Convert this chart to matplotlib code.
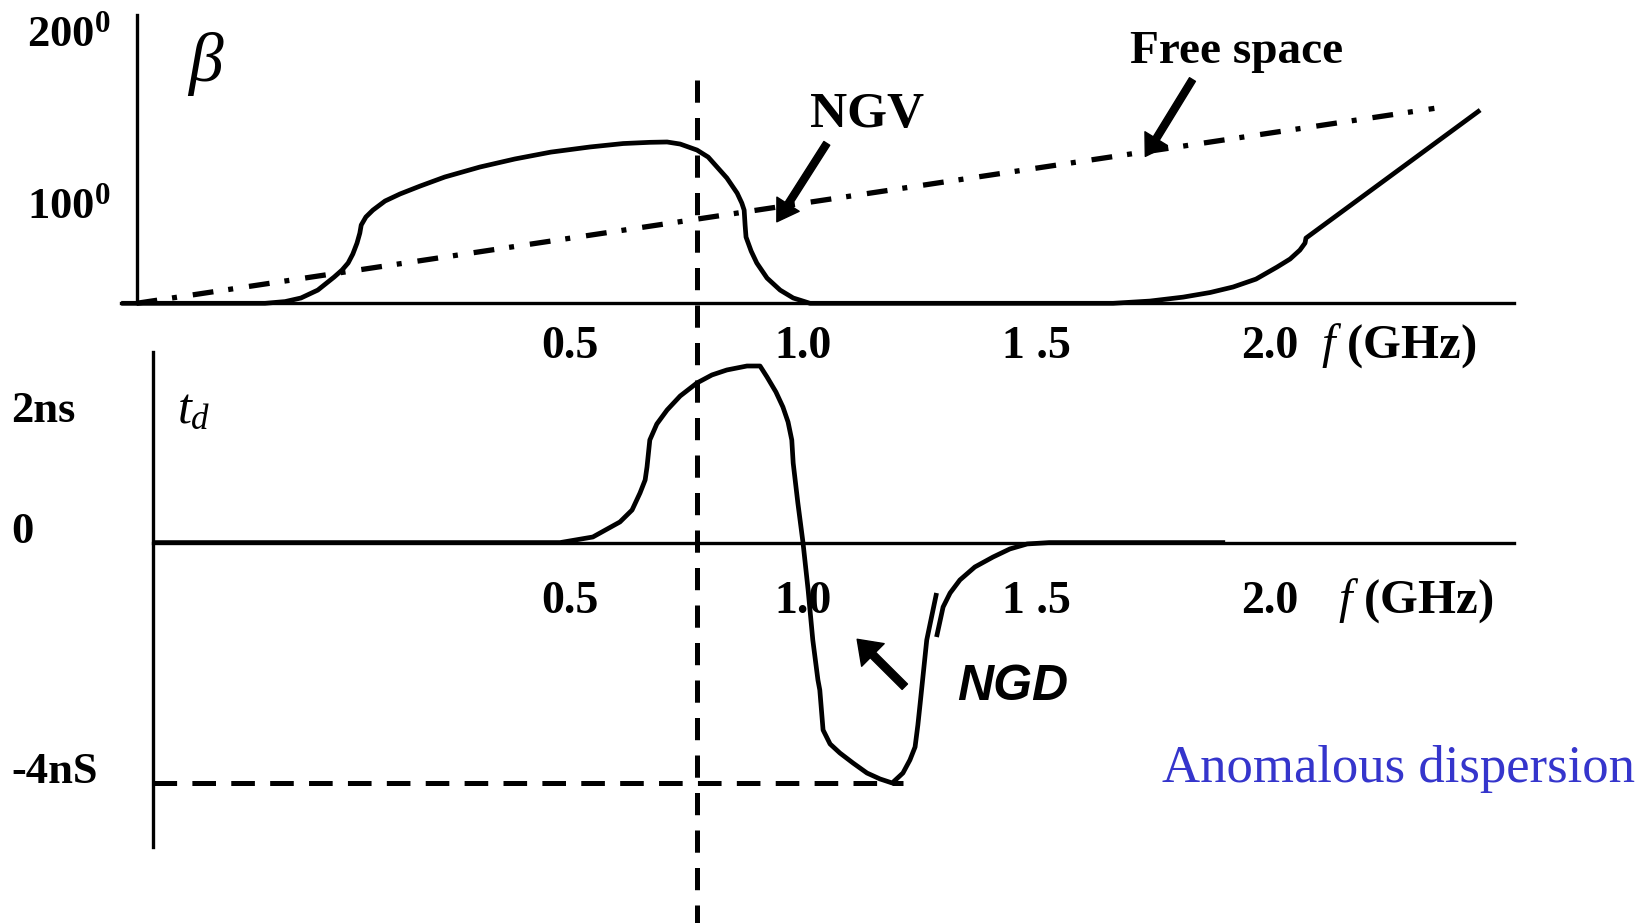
import numpy as np
import matplotlib
matplotlib.use('Agg')
import matplotlib.pyplot as plt

plt.rcParams.update({
    'font.family': 'Liberation Serif',
    'mathtext.fontset': 'custom',
    'mathtext.rm': 'Liberation Serif',
    'mathtext.it': 'Liberation Serif:italic',
    'mathtext.bf': 'Liberation Serif:bold',
    'lines.scale_dashes': False,
})

# phase constant beta (deg) against frequency (GHz)
f_beta = [-0.460, -0.152, -0.109, -0.075, -0.039, -0.004, 0.013, 0.026, 0.036, 0.045,
          0.051, 0.054, 0.064, 0.079, 0.105, 0.137, 0.180, 0.233, 0.308, 0.383,
          0.460, 0.544, 0.615, 0.672, 0.709, 0.737, 0.773, 0.797, 0.816, 0.837,
          0.859, 0.869, 0.874, 0.876, 0.878, 0.889, 0.901, 0.923, 0.951, 0.979,
          1.015, 1.664, 1.743, 1.814, 1.872, 1.921, 1.970, 2.015, 2.043, 2.064,
          2.075, 2.077, 2.450]
beta = [50.5, 50.5, 51.5, 53.6, 58.2, 65.8, 69.9, 74.0, 79.2, 85.6,
        91.4, 96.1, 100.8, 104.8, 110.1, 114.2, 118.8, 124.1, 129.9, 134.6,
        138.6, 141.6, 143.6, 144.3, 144.5, 143.3, 139.8, 135.7, 129.9, 123.5,
        114.7, 108.9, 104.8, 96.1, 89.1, 80.9, 74.0, 65.2, 58.2, 53.6,
        50.5, 50.5, 51.8, 54.1, 56.8, 60.0, 64.6, 71.6, 76.3, 81.5,
        85.6, 88.5, 163.1]

# free space line
f_free = [-0.427, 2.352]
beta_free = [50.5, 164.1]

# group delay t_d (ns); nan splits the two strokes
f_td = [-0.391, 0.480, 0.550, 0.608, 0.634, 0.651, 0.662, 0.666, 0.672, 0.687,
        0.709, 0.737, 0.773, 0.805, 0.837, 0.880, 0.908, 0.923, 0.942, 0.957,
        0.968, 0.976, 0.979, 0.989, 1.000, 1.011, 1.021, 1.032, 1.036, 1.043,
        1.058, 1.079, 1.107, 1.137, 1.165, 1.191, 1.214, 1.229, 1.240, 1.246,
        1.251, 1.265, 1.286, np.nan, 1.286, 1.300, 1.315, 1.336, 1.368, 1.407,
        1.443, 1.480, 1.527, 1.904]
td = [0, 0, 0.093, 0.343, 0.542, 0.825, 1.042, 1.258, 1.707, 1.973,
      2.206, 2.439, 2.656, 2.789, 2.872, 2.938, 2.938, 2.755, 2.506, 2.256,
      2.007, 1.707, 1.324, 0.659, 0.0, -0.789, -1.621, -2.286, -2.453, -3.118,
      -3.351, -3.501, -3.667, -3.834, -3.933, -4.0, -3.834, -3.617, -3.401, -3.035,
      -2.669, -1.621, -0.839, np.nan, -1.571, -1.072, -0.839, -0.622, -0.406, -0.240,
      -0.106, -0.023, 0, 0]

td_min = -4.0
f_min_line = [-0.391, 1.214]
f_marker = 0.772   # dashed frequency marker through both panels

f_ticks = [0.5, 1.0, 1.5, 2.0]
f_ticklabels = ['0.5', '1.0', '1 .5', '2.0']
beta_ticks = [100, 200]
beta_ticklabels = [r'100$^{\mathbf{0}}$', r'200$^{\mathbf{0}}$']
td_ticks = [2, 0, -4]
td_ticklabels = ['2ns', '0', '-4nS']

W, H = 1652, 923
fig = plt.figure(figsize=(W / 100, H / 100), dpi=100)
ax1 = fig.add_axes([121 / W, 1 - 303.3 / H, 1393 / W, 288.3 / H])
ax2 = fig.add_axes([153.3 / W, 1 - 846.7 / H, 1360.7 / W, 495 / H])

ax1.set_xlim(-0.4604, 2.5225)
ax1.set_ylim(50.5, 218.5)
ax2.set_xlim(-0.3912, 2.5225)
ax2.set_ylim(-5.06, 3.176)

for ax in (ax1, ax2):
    ax.patch.set_visible(False)
    for s in ('top', 'right'):
        ax.spines[s].set_visible(False)
    for s in ('left', 'bottom'):
        ax.spines[s].set_linewidth(2.4)
ax1.spines['left'].set_position(('data', -0.427))
ax2.spines['bottom'].set_position(('data', 0))

lab = dict(fontsize=33, fontweight='bold', va='baseline')
ax1.set_xticks(f_ticks, f_ticklabels, **lab)
ax1.set_yticks(beta_ticks, beta_ticklabels, fontsize=32, fontweight='bold', va='baseline')
ax1.tick_params(axis='x', length=0, pad=39.4)
ax1.tick_params(axis='y', length=0, pad=19.2)
ax2.set_xticks(f_ticks, f_ticklabels, **lab)
ax2.set_yticks(td_ticks, td_ticklabels, fontsize=32, fontweight='bold', va='baseline', ha='left')
ax2.tick_params(axis='x', length=0, pad=50.7)
ax2.tick_params(axis='y', length=0, pad=102.5)

# curves
ax1.plot(f_beta, beta, color='black', lw=3.4, clip_on=False, solid_capstyle='butt')
ax1.plot(f_free, beta_free, color='black', lw=3.8, clip_on=False,
         linestyle=(0, (15, 10.8, 3.6, 11.5)))
ax2.plot(f_td, td, color='black', lw=3.4, clip_on=False, solid_capstyle='butt')
ax2.plot(f_min_line, [td_min, td_min], color='black', lw=3.6, clip_on=False,
         linestyle=(0, (17, 11)))

# marker line runs from the top panel down to the bottom edge
ax2.plot([f_marker, f_marker], [7.70, -6.33], color='black', lw=3.6, clip_on=False,
         linestyle=(0, (16, 11)))

# axis names
ax1.text(-0.2805, 189.9, '\u03b2', fontsize=50, fontstyle='italic', ha='center', va='center')
ax2.text(-0.341, 1.985, r'$t_d$', fontsize=36, ha='left', va='baseline')
ax1.text(2.11, 18.6, r'$f$ (GHz)', fontsize=35, fontweight='bold', ha='left',
         va='baseline', clip_on=False)
ax2.text(2.145, -1.171, r'$f$ (GHz)', fontsize=35, fontweight='bold', ha='left',
         va='baseline', clip_on=False)

# annotations
arrow = dict(arrowstyle='simple,head_length=1.5,head_width=1.9,tail_width=0.5',
             mutation_scale=10, fc='black', ec='black', shrinkA=0, shrinkB=0)
ax1.text(1.138, 153.4, 'NGV', fontsize=37, fontweight='bold', ha='center', va='baseline')
ax1.annotate('', xy=(0.944, 98.0), xytext=(1.051, 143.7), arrowprops=arrow)
ax1.text(1.929, 190.3, 'Free space', fontsize=34, fontweight='bold', ha='center', va='baseline')
ax1.annotate('', xy=(1.733, 136.1), xytext=(1.834, 180.9), arrowprops=arrow)

arrow_ngd = dict(arrow, arrowstyle='simple,head_length=1.6,head_width=2.3,tail_width=0.55')
ax2.annotate('', xy=(1.116, -1.609), xytext=(1.218, -2.398), arrowprops=arrow_ngd)
ax2.text(1.329, -2.619, 'NGD', fontsize=36, fontweight='bold', fontstyle='italic',
         family='Liberation Sans', ha='left', va='baseline')
ax2.text(1.768, -3.978, 'Anomalous dispersion', fontsize=38, color='#3535cc',
         ha='left', va='baseline', clip_on=False)

fig.savefig('out.png', dpi=100)
